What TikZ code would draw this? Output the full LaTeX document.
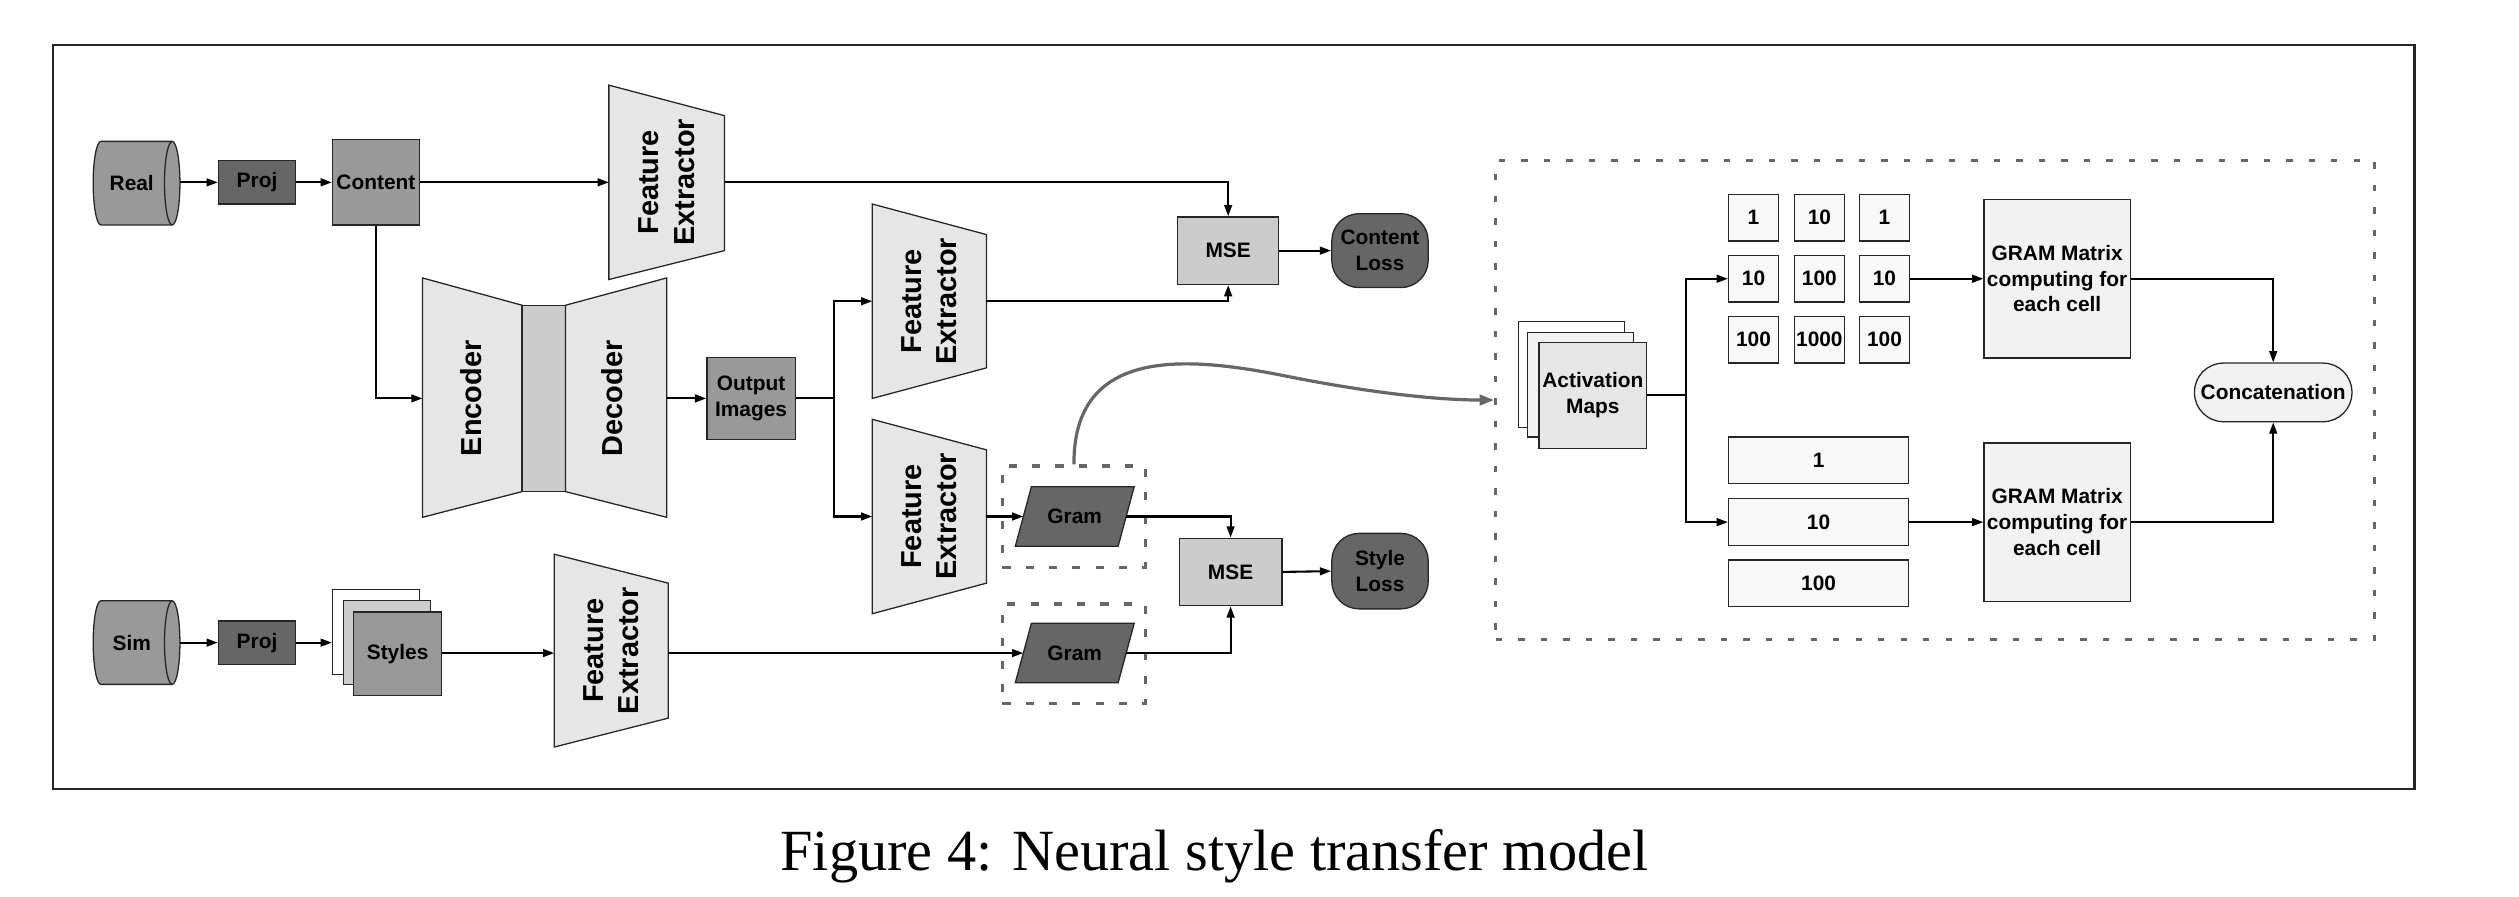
\documentclass[tikz,border=0pt]{standalone}
\usepackage{fontspec}
\setmainfont{Liberation Sans}
\newfontfamily\capfont{Liberation Serif}
\usetikzlibrary{arrows.meta}
\definecolor{cdark}{HTML}{666666}
\definecolor{cmid}{HTML}{999999}
\definecolor{clight}{HTML}{CCCCCC}
\definecolor{cpale}{HTML}{E6E6E6}
\definecolor{cpaler}{HTML}{F2F2F2}
\definecolor{cgrid}{HTML}{F8F8F8}
\definecolor{cedge}{HTML}{262626}
\begin{document}
\begin{tikzpicture}[x=1pt,y=-1pt,
  lab/.style={font=\fontsize{13}{16}\selectfont\bfseries, align=center, inner sep=0pt},
  biglab/.style={font=\fontsize{18}{22}\selectfont\bfseries, align=center, inner sep=0pt, rotate=90},
  rbox/.style={draw=cedge, line width=0.8pt, lab},
  shp/.style={draw=cedge, line width=0.8pt},
  wire/.style={line width=1.3pt, black},
  conn/.style={wire, -{Triangle[length=7pt,width=4.8pt]}},
  gbox/.style={draw=cdark, line width=2pt, dash pattern=on 5pt off 9.5pt},
  gcurve/.style={draw=cdark, line width=2pt, -{Triangle[length=9pt,width=6.5pt]}}
]
\useasboundingbox (0,0) rectangle (1568,558);
\node[draw=black!85, line width=1.4pt, minimum width=1470pt, minimum height=463pt, inner sep=0pt] (frame) at (768,259.5) {};

% ---------- Real row ----------
\filldraw[shp, fill=cmid] (62.8,88) -- (107.2,88) arc[start angle=90,end angle=-90,x radius=4.8pt,y radius=26pt] -- (62.8,140) arc[start angle=270,end angle=90,x radius=4.8pt,y radius=26pt] -- cycle;
\draw[shp] (107.2,88) arc[start angle=90,end angle=270,x radius=4.8pt,y radius=26pt];
\node[lab] (real) at (82,114) {Real};
\coordinate (realout) at (112,113.5);
\node[rbox, fill=cdark, minimum width=48pt, minimum height=27pt] (proj1) at (160,113.5) {Proj};
\node[rbox, fill=cmid, minimum width=54pt, minimum height=53pt] (content) at (234,113.5) {Content};
\draw[conn] (realout) -- (proj1.west);
\draw[conn] (proj1.east) -- (content.west);

% Feature extractor 1
\filldraw[shp, fill=cpale] (379,53) -- (451,72) -- (451,156) -- (379,174) -- cycle;
\node[biglab] (fe1) at (415,113.5) {Feature\\Extractor};
\coordinate (fe1in) at (379,113.5);
\coordinate (fe1out) at (451,113.5);
\draw[conn] (content.east) -- (fe1in);

\node[rbox, fill=clight, minimum width=63pt, minimum height=42pt] (mse1) at (764.5,156) {MSE};
\node[rbox, fill=cdark, rounded corners=17pt, minimum width=60pt, minimum height=46pt] (closs) at (859,156) {Content\\Loss};
\draw[conn] (fe1out) -| (mse1.north);
\draw[conn] (mse1.east) -- (closs.west);

% Encoder / decoder
\filldraw[shp, fill=cpale] (263,173) -- (325,190) -- (325,306) -- (263,322) -- cycle;
\node[rbox, fill=clight, minimum width=27pt, minimum height=116pt] (bneck) at (338.5,248) {};
\filldraw[shp, fill=cpale] (352,190) -- (415,173) -- (415,322) -- (352,306) -- cycle;
\node[biglab] (enc) at (293,248) {Encoder};
\node[biglab] (dec) at (381,248) {Decoder};
\coordinate (encin) at (263,248);
\coordinate (decout) at (415,248);
\draw[conn] (content.south) |- (encin);
\node[rbox, fill=cmid, minimum width=55pt, minimum height=51pt] (output) at (467.5,248) {Output\\Images};
\draw[conn] (decout) -- (output.west);

% Feature extractors 2 and 3
\coordinate (br) at (519,248);
\filldraw[shp, fill=cpale] (543,127) -- (614,146) -- (614,229) -- (543,248) -- cycle;
\node[biglab] (fe2) at (578.5,187.5) {Feature\\Extractor};
\coordinate (fe2in) at (543,187.5);
\coordinate (fe2out) at (614,187.5);
\filldraw[shp, fill=cpale] (543,261) -- (614,280) -- (614,363) -- (543,382) -- cycle;
\node[biglab] (fe3) at (578.5,321.5) {Feature\\Extractor};
\coordinate (fe3in) at (543,321.5);
\coordinate (fe3out) at (614,321.5);
\draw[wire] (output.east) -- (br);
\draw[conn] (br) |- (fe2in);
\draw[conn] (br) |- (fe3in);
\draw[conn] (fe2out) -| (mse1.south);

% Gram blocks
\node[gbox, minimum width=89pt, minimum height=63pt, inner sep=0pt] (gb1) at (668.5,321.5) {};
\filldraw[shp, fill=cdark] (642,303) -- (706,303) -- (696,340) -- (632,340) -- cycle;
\node[lab] (gram1) at (669,321.5) {Gram};
\coordinate (g1in) at (637,321.5);
\coordinate (g1out) at (701,321.5);
\draw[conn] (fe3out) -- (g1in);

\node[gbox, minimum width=89pt, minimum height=62pt, inner sep=0pt] (gb2) at (668.5,407) {};
\filldraw[shp, fill=cdark] (642,388) -- (706,388) -- (696,425) -- (632,425) -- cycle;
\node[lab] (gram2) at (669,406.5) {Gram};
\coordinate (g2in) at (637,406.5);
\coordinate (g2out) at (701,406.5);

\node[rbox, fill=clight, minimum width=64pt, minimum height=42pt] (mse2) at (766,356) {MSE};
\node[rbox, fill=cdark, rounded corners=17pt, minimum width=60pt, minimum height=47pt] (sloss) at (859,355.5) {Style\\Loss};
\draw[conn] (g1out) -| (mse2.north);
\draw[conn] (g2out) -| (mse2.south);
\draw[conn] (mse2.east) -- (sloss.west);

% ---------- Sim row ----------
\filldraw[shp, fill=cmid] (62.8,374) -- (107.2,374) arc[start angle=90,end angle=-90,x radius=4.8pt,y radius=26pt] -- (62.8,426) arc[start angle=270,end angle=90,x radius=4.8pt,y radius=26pt] -- cycle;
\draw[shp] (107.2,374) arc[start angle=90,end angle=270,x radius=4.8pt,y radius=26pt];
\node[lab] (sim) at (82,400) {Sim};
\coordinate (simout) at (112,400);
\node[rbox, fill=cdark, minimum width=48pt, minimum height=27pt] (proj2) at (160,400) {Proj};
\node[rbox, fill=white, minimum width=54pt, minimum height=53pt] (sty3) at (234,393.5) {};
\node[rbox, fill=clight, minimum width=54pt, minimum height=52pt] (sty2) at (241,400) {};
\node[rbox, fill=cmid, minimum width=55pt, minimum height=52pt] (styles) at (247.5,407) {Styles};
\draw[conn] (simout) -- (proj2.west);
\draw[conn] (proj2.east) -- (proj2.east -| sty3.west);

\filldraw[shp, fill=cpale] (345,345) -- (416,363) -- (416,447) -- (345,465) -- cycle;
\node[biglab] (fe4) at (380.5,405) {Feature\\Extractor};
\coordinate (fe4in) at (345,406.5);
\coordinate (fe4out) at (416,406.5);
\draw[conn] (styles.east |- fe4in) -- (fe4in);
\draw[conn] (fe4out) -- (g2in);

% ---------- Right panel ----------
\node[draw=cdark, line width=2pt, dash pattern=on 4pt off 10pt, minimum width=547pt, minimum height=298pt, inner sep=0pt] (bigbox) at (1204.5,249) {};
\draw[gcurve] (gb1.north) .. controls (668,215) and (740,222) .. (800,234) .. controls (860,246) and (900,249) .. (bigbox.west);

\node[rbox, fill=white, minimum width=66pt, minimum height=66pt] (act3) at (978,233) {};
\node[rbox, fill=cpaler, minimum width=66pt, minimum height=65pt] (act2) at (984,239.5) {};
\node[rbox, fill=cpale, minimum width=67pt, minimum height=66pt] (act) at (991.5,246) {Activation\\Maps};
\coordinate (abr) at (1049.5,246);

\foreach \r/\y/\a/\b/\c in {1/135.5/1/10/1, 2/173.5/10/100/10, 3/211.5/100/1000/100}{
  \node[rbox, fill=cgrid, minimum width=31pt, minimum height=29pt] (g\r1) at (1091.5,\y) {\a};
  \node[rbox, fill=cgrid, minimum width=31pt, minimum height=29pt] (g\r2) at (1132.5,\y) {\b};
  \node[rbox, fill=cgrid, minimum width=31pt, minimum height=29pt] (g\r3) at (1173,\y) {\c};
}
\node[rbox, fill=cgrid, minimum width=112pt, minimum height=29pt] (w1) at (1132,286.5) {1};
\node[rbox, fill=cgrid, minimum width=112pt, minimum height=29pt] (w2) at (1132,325) {10};
\node[rbox, fill=cgrid, minimum width=112pt, minimum height=29pt] (w3) at (1132,363) {100};

\node[rbox, fill=cpaler, minimum width=91pt, minimum height=98.5pt] (gm1) at (1280.5,173.5) {GRAM Matrix\\computing for\\each cell};
\node[rbox, fill=cpaler, minimum width=91pt, minimum height=98.5pt] (gm2) at (1280.5,325) {GRAM Matrix\\computing for\\each cell};
\node[rbox, fill=cpaler, rounded corners=18pt, minimum width=98pt, minimum height=36.5pt] (concat) at (1415,244.25) {Concatenation};

\draw[wire] (act.east) -- (abr);
\draw[conn] (abr) |- (g21.west);
\draw[conn] (abr) |- (w2.west);
\draw[conn] (g23.east) -- (gm1.west);
\draw[conn] (w2.east) -- (gm2.west);
\draw[conn] (gm1.east) -| (concat.north);
\draw[conn] (gm2.east) -| (concat.south);

% caption
\node[font=\capfont\fontsize{36.3}{40}\selectfont, anchor=base, inner sep=0pt] (cap) at (756,542) {Figure 4: Neural style transfer model};
\end{tikzpicture}
\end{document}
